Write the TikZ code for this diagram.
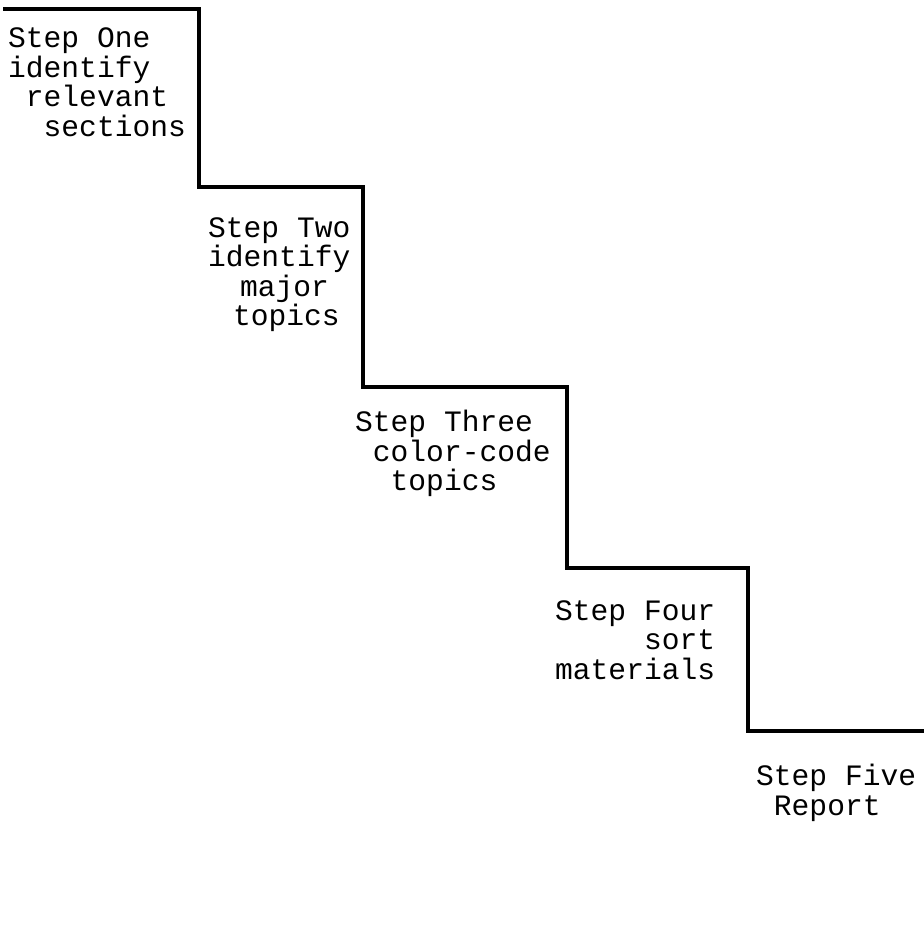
\documentclass[tikz,border=0pt]{standalone}
\usepackage{fontspec}
\usepackage{tikz}
\usetikzlibrary{positioning}
\newfontfamily\stairfont{Liberation Mono}
% leading blank of n character cells
\newcommand{\pad}[1]{\hspace*{#1\dimexpr 0.6em\relax}}

\begin{document}
\begin{tikzpicture}[x=1pt, y=-1pt,
  stairline/.style={line width=4.2pt, line join=miter, line cap=rect},
  steptext/.style={inner sep=0pt, anchor=north west, font=\fontsize{29.6}{29.5}\stairfont, align=#1},
  steptext/.default=left]
\useasboundingbox (0,0) rectangle (923,933);
% corners of the staircase
\coordinate (s0) at (5,9);
\coordinate (c1) at (199,9);
\coordinate (c2) at (199,187);
\coordinate (c3) at (363,187);
\coordinate (c4) at (363,387);
\coordinate (c5) at (567,387);
\coordinate (c6) at (567,568);
\coordinate (c7) at (748,568);
\coordinate (c8) at (748,731);
\coordinate (s9) at (923,731);
\draw[stairline] (s0) -- (c1) -- (c2) -- (c3) -- (c4) -- (c5) -- (c6) -- (c7) -- (c8) -- (s9);
% step labels
\node[steptext] (one) at (8,28) {Step One\\identify\\\pad{1}relevant\\\pad{2}sections};
\node[steptext] (two) at (208,217) {Step Two\\identify\\\pad{1.8}major\\\pad{1.4}topics};
\node[steptext] (three) at (355,410) {Step Three\\\pad{1}color-code\\\pad{2}topics};
\node[steptext=right] (four) at (555,600) {Step Four\\sort\\materials};
\node[steptext] (five) at (756,764) {Step Five\\\pad{1}Report};
\end{tikzpicture}
\end{document}
